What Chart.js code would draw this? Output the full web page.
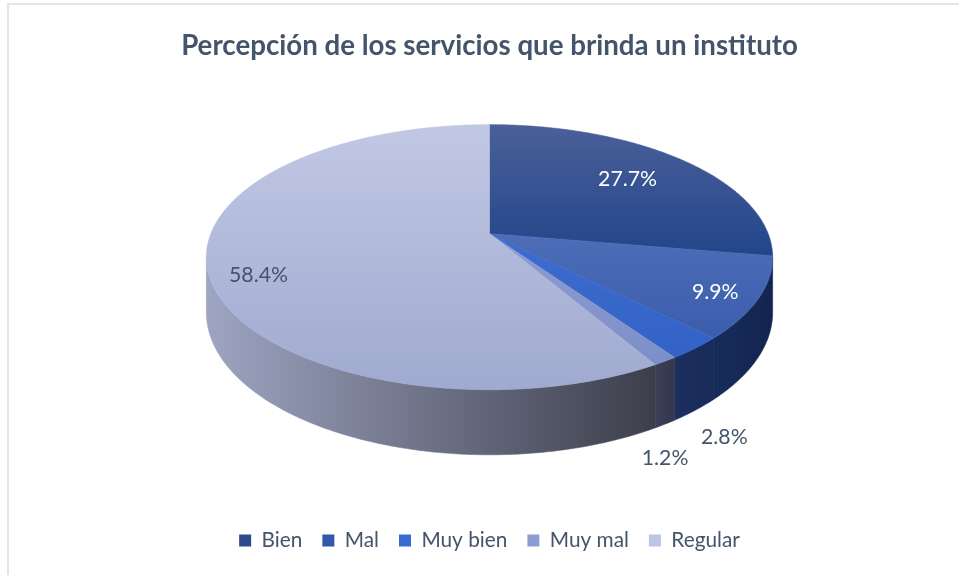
<!DOCTYPE html>
<html>
<head>
<meta charset="utf-8">
<script src="https://cdn.jsdelivr.net/npm/chart.js@4.4.1/dist/chart.umd.min.js"></script>
<style>
html,body{margin:0;padding:0;background:#ffffff;}
#wrap{position:relative;width:959px;height:575px;overflow:hidden;background:#ffffff;}
#frame{position:absolute;left:7px;top:3px;width:1000px;height:700px;border-left:2px solid #E1E6EC;border-top:2px solid #E1E6EC;}
canvas{position:absolute;left:0;top:0;}
</style>
</head>
<body>
<div id="wrap"><div id="frame"></div><canvas id="c" width="959" height="575"></canvas></div>
<script>
// ---- data ----
const chartTitle = 'Percepción de los servicios que brinda un instituto';
const categories = ['Bien', 'Mal', 'Muy bien', 'Muy mal', 'Regular'];
const percentages = [27.7, 9.9, 2.8, 1.2, 58.4];
const valueLabels = ['27.7%', '9.9%', '2.8%', '1.2%', '58.4%'];

// ---- styles ----
const legendColors = ['#2D4B8C', '#3158AB', '#3A6BD1', '#8C9DD4', '#BEC5E4'];
const topLight = ['#4A6099', '#4D6DB7', '#3E6DCE', '#8D9DD2', '#C1C8E4'];
const topDark  = ['#22458A', '#3A5DAC', '#3362C6', '#7D8FC8', '#A0AAD0'];
const wallLeft  = ['#17284F', '#182C5C', '#1C2F60', '#3A3F57', '#9EA5C2'];
const wallRight = ['#13234A', '#13244E', '#182A58', '#33374D', '#3C3E4B'];
const labelColors = ['#FFFFFF', '#FFFFFF', '#44546A', '#44546A', '#44546A'];
const labelRadius = [0.70, 0.85, 1.12, 1.0, 0.826];
const labelDepth  = [0, 0, 1, 1, 0];
const labelShift  = [[0, -1], [0, 4], [0, 9], [0, 34], [0, 13]];

const FONT = 'Lato';
const TEXT = '#44546A';

// perspective parameters of the 3-D pie (normalised to horizontal radius)
const K = 0.1774, BY = 0.4607, DZ = 0.1921, SCALE = 1.2637;
const PL = Math.asin(K), PR = Math.PI - Math.asin(K);

function fitSize(text, weight, target) {
  const c = document.createElement('canvas').getContext('2d');
  c.font = weight + ' 100px ' + FONT;
  return 100 * target / c.measureText(text).width;
}
const titleSize = fitSize(chartTitle, 'bold', 617);
const labelSize = fitSize('27.7%', 'normal', 59);
const legendSize = fitSize('Muy bien', 'normal', 86);

function proj(cx, cy, S, ang, r, z) {
  const u = Math.cos(ang), v = Math.sin(ang);
  const w = 1 - K * r * v;
  return [cx + S * r * u / w, cy + S * (BY * r * v + DZ * z) / w];
}

const pie3d = {
  id: 'pie3d',
  beforeDatasetDraw(chart, args) {
    const meta = args.meta;
    const ctx = chart.ctx;
    const arcs = meta.data;
    if (!arcs.length) return false;
    const a0 = arcs[0];
    const S = a0.outerRadius * SCALE;
    const cx = a0.x;
    const top = -BY / (1 + K), bot = (BY + DZ) / (1 - K);
    const cy = a0.y - S * (top + bot) / 2;
    ctx.save();
    // walls
    arcs.forEach((arc, i) => {
      const s = Math.max(arc.startAngle, PL), e = Math.min(arc.endAngle, PR);
      if (e <= s) return;
      const n = Math.max(2, Math.ceil((e - s) / 0.01));
      const pts = [];
      for (let j = 0; j <= n; j++) pts.push(proj(cx, cy, S, s + (e - s) * j / n, 1, 0));
      for (let j = n; j >= 0; j--) pts.push(proj(cx, cy, S, s + (e - s) * j / n, 1, 1));
      let xmin = Infinity, xmax = -Infinity;
      pts.forEach(p => { xmin = Math.min(xmin, p[0]); xmax = Math.max(xmax, p[0]); });
      const g = ctx.createLinearGradient(xmin, 0, xmax, 0);
      g.addColorStop(0, wallLeft[i]);
      g.addColorStop(1, wallRight[i]);
      ctx.beginPath();
      pts.forEach((p, j) => j ? ctx.lineTo(p[0], p[1]) : ctx.moveTo(p[0], p[1]));
      ctx.closePath();
      ctx.fillStyle = g; ctx.strokeStyle = g; ctx.lineWidth = 0.6;
      ctx.fill(); ctx.stroke();
    });
    // top faces
    arcs.forEach((arc, i) => {
      const s = arc.startAngle, e = arc.endAngle;
      const n = Math.max(2, Math.ceil((e - s) / 0.01));
      const pts = [[cx, cy]];
      for (let j = 0; j <= n; j++) pts.push(proj(cx, cy, S, s + (e - s) * j / n, 1, 0));
      let ymin = Infinity, ymax = -Infinity;
      pts.forEach(p => { ymin = Math.min(ymin, p[1]); ymax = Math.max(ymax, p[1]); });
      const g = ctx.createLinearGradient(0, ymin, 0, ymax);
      g.addColorStop(0, topLight[i]);
      g.addColorStop(1, topDark[i]);
      ctx.beginPath();
      pts.forEach((p, j) => j ? ctx.lineTo(p[0], p[1]) : ctx.moveTo(p[0], p[1]));
      ctx.closePath();
      ctx.fillStyle = g; ctx.strokeStyle = g; ctx.lineWidth = 0.6;
      ctx.fill(); ctx.stroke();
    });
    // labels
    ctx.font = labelSize.toFixed(2) + 'px ' + FONT;
    ctx.textAlign = 'center';
    ctx.textBaseline = 'middle';
    arcs.forEach((arc, i) => {
      const mid = (arc.startAngle + arc.endAngle) / 2;
      const p = proj(cx, cy, S, mid, labelRadius[i], labelDepth[i]);
      ctx.fillStyle = labelColors[i];
      ctx.fillText(valueLabels[i], p[0] + labelShift[i][0], p[1] + labelShift[i][1]);
    });
    ctx.restore();
    return false;
  }
};

new Chart(document.getElementById('c'), {
  type: 'pie',
  data: {
    labels: categories,
    datasets: [{
      data: percentages,
      backgroundColor: legendColors,
      borderWidth: 0,
      hoverOffset: 0,
      offset: 0
    }]
  },
  options: {
    responsive: false,
    animation: false,
    events: [],
    layout: { padding: { left: 20, right: 0, top: 0, bottom: 14 } },
    plugins: {
      tooltip: { enabled: false },
      title: {
        display: true,
        text: chartTitle,
        color: TEXT,
        font: { family: FONT, size: titleSize, weight: 'bold', lineHeight: 1.2 },
        padding: { top: 29, bottom: 7 }
      },
      legend: {
        display: true,
        position: 'bottom',
        labels: {
          color: TEXT,
          boxWidth: 12,
          boxHeight: 12,
          padding: 20,
          font: { family: FONT, size: legendSize }
        }
      }
    }
  },
  plugins: [pie3d]
});
</script>
</body>
</html>
